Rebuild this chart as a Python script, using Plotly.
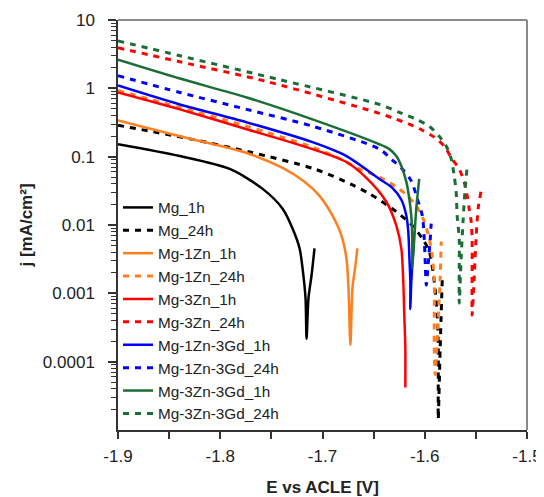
import plotly.graph_objects as go

# ---- data (E in V vs ACLE, j in mA/cm^2) ----
mg_1h_E = [-1.9, -1.8395, -1.7907, -1.7585, -1.739, -1.7293, -1.7224, -1.7195, -1.7166, -1.7156, -1.7137, -1.7107, -1.7078]
mg_1h_j = [0.152, 0.102, 0.0661, 0.0338, 0.0173, 0.0089, 0.00454, 0.00232, 0.00085, 0.000216, 0.00085, 0.00184, 0.00454]

mg_24h_E = [-1.9, -1.8327, -1.7712, -1.7078, -1.6707, -1.6541, -1.6317, -1.6122, -1.6024, -1.5956, -1.5907, -1.5878, -1.5868, -1.5868, -1.5868, -1.5849, -1.5829]
mg_24h_j = [0.288, 0.186, 0.117, 0.0661, 0.0387, 0.0286, 0.0173, 0.0098, 0.00634, 0.0041, 0.0015, 0.00048, 0.00016, 5.3e-5, 1.44e-5, 0.00016, 0.00156]

mg1zn_1h_E = [-1.9, -1.8395, -1.7741, -1.739, -1.7176, -1.7029, -1.6902, -1.6815, -1.6766, -1.6746, -1.6727, -1.6707, -1.6678, -1.6659]
mg1zn_1h_j = [0.34, 0.199, 0.113, 0.0683, 0.0428, 0.0267, 0.0137, 0.00702, 0.00325, 0.00119, 0.000177, 0.00119, 0.00257, 0.00454]

mg1zn_24h_E = [-1.9, -1.8395, -1.7741, -1.7098, -1.6863, -1.6639, -1.6444, -1.6278, -1.618, -1.6083, -1.6005, -1.5956, -1.5927, -1.5907, -1.5907, -1.5907, -1.5898, -1.5868, -1.5849, -1.5839]
mg1zn_24h_j = [0.93, 0.526, 0.279, 0.138, 0.0986, 0.0661, 0.0505, 0.0361, 0.0277, 0.0191, 0.0112, 0.00634, 0.00359, 0.0015, 0.00048, 0.00016, 6.5e-5, 0.00044, 0.00166, 0.00574]

mg3zn_1h_E = [-1.9, -1.8395, -1.7741, -1.7098, -1.6766, -1.6571, -1.6376, -1.6278, -1.6229, -1.621, -1.62, -1.619, -1.619]
mg3zn_1h_j = [0.87, 0.492, 0.252, 0.129, 0.0835, 0.0489, 0.0219, 0.0098, 0.00454, 0.0015, 0.00048, 0.00016, 4.2e-5]

mg3zn_24h_E = [-1.9, -1.8395, -1.7546, -1.6444, -1.6278, -1.6122, -1.6024, -1.5907, -1.581, -1.5732, -1.5663, -1.5615, -1.5585, -1.5566, -1.5546, -1.5537, -1.5537, -1.5537, -1.5517, -1.5498, -1.5478, -1.5449]
mg3zn_24h_j = [3.92, 2.45, 1.26, 0.43, 0.352, 0.288, 0.244, 0.193, 0.143, 0.0923, 0.0661, 0.0428, 0.0267, 0.0173, 0.0112, 0.00634, 0.00166, 0.00048, 0.00166, 0.00634, 0.0173, 0.0316]

mg1zn3gd_1h_E = [-1.9, -1.8395, -1.7741, -1.7098, -1.6766, -1.6444, -1.6317, -1.6229, -1.618, -1.6161, -1.6151, -1.6141, -1.6141, -1.6132, -1.6112]
mg1zn3gd_1h_j = [1.10, 0.581, 0.318, 0.163, 0.102, 0.0472, 0.035, 0.0234, 0.0137, 0.008, 0.00359, 0.0015, 0.00059, 0.00141, 0.00454]

mg1zn3gd_24h_E = [-1.9, -1.8395, -1.7741, -1.7098, -1.6444, -1.6317, -1.622, -1.6132, -1.6073, -1.6024, -1.6005, -1.5995, -1.5985, -1.5966, -1.5946, -1.5937]
mg1zn3gd_24h_j = [1.53, 0.87, 0.492, 0.279, 0.129, 0.0893, 0.0661, 0.0442, 0.0242, 0.0137, 0.00634, 0.00275, 0.00132, 0.00275, 0.00634, 0.0105]

mg3zn3gd_1h_E = [-1.9, -1.8395, -1.7741, -1.7098, -1.6444, -1.6346, -1.6278, -1.6229, -1.618, -1.6151, -1.6132, -1.6122, -1.6122, -1.6102, -1.6083, -1.6054]
mg3zn3gd_1h_j = [2.62, 1.39, 0.735, 0.352, 0.152, 0.129, 0.102, 0.073, 0.0428, 0.0242, 0.0137, 0.00634, 0.00232, 0.00634, 0.0173, 0.0472]

mg3zn3gd_24h_E = [-1.9, -1.8395, -1.742, -1.6444, -1.6249, -1.6083, -1.5956, -1.5859, -1.579, -1.5741, -1.5712, -1.5693, -1.5683, -1.5663, -1.5663, -1.5663, -1.5644, -1.5624, -1.5605, -1.5585]
mg3zn3gd_24h_j = [4.95, 3.0, 1.34, 0.582, 0.445, 0.352, 0.279, 0.199, 0.143, 0.0923, 0.0523, 0.0306, 0.0137, 0.00634, 0.00232, 0.00072, 0.00325, 0.0124, 0.0338, 0.0706]

x_tickvals = [-1.9, -1.8, -1.7, -1.6, -1.5]
x_ticktext = ["-1.9", "-1.8", "-1.7", "-1.6", "-1.5"]
x_minor = [-1.85, -1.75, -1.65, -1.55]
y_tickvals = [1e-4, 1e-3, 1e-2, 1e-1, 1, 10]
y_ticktext = ["0.0001", "0.001", "0.01", "0.1", "1", "10"]

series = [
    ("Mg_1h", mg_1h_E, mg_1h_j, "#000000", "solid"),
    ("Mg_24h", mg_24h_E, mg_24h_j, "#000000", "dash"),
    ("Mg-1Zn_1h", mg1zn_1h_E, mg1zn_1h_j, "#FF7F1E", "solid"),
    ("Mg-1Zn_24h", mg1zn_24h_E, mg1zn_24h_j, "#FF7F1E", "dash"),
    ("Mg-3Zn_1h", mg3zn_1h_E, mg3zn_1h_j, "#FF0000", "solid"),
    ("Mg-3Zn_24h", mg3zn_24h_E, mg3zn_24h_j, "#FF0000", "dash"),
    ("Mg-1Zn-3Gd_1h", mg1zn3gd_1h_E, mg1zn3gd_1h_j, "#0000FF", "solid"),
    ("Mg-1Zn-3Gd_24h", mg1zn3gd_24h_E, mg1zn3gd_24h_j, "#0000FF", "dash"),
    ("Mg-3Zn-3Gd_1h", mg3zn3gd_1h_E, mg3zn3gd_1h_j, "#1B6E35", "solid"),
    ("Mg-3Zn-3Gd_24h", mg3zn3gd_24h_E, mg3zn3gd_24h_j, "#1B6E35", "dash"),
]

FONT = "Liberation Sans, Arial, sans-serif"

fig = go.Figure()
for name, E, j, color, style in series:
    fig.add_trace(go.Scatter(
        x=E, y=j, name=name, mode="lines",
        line=dict(color=color, width=2.5 if style == "solid" else 3,
                  dash="solid" if style == "solid" else "6px,6px",
                  shape="spline", smoothing=0.8),
    ))

minor_y = [k * 10.0 ** n for n in range(-5, 1) for k in range(2, 10)]

# the page body adds an 8px offset, so the figure is 8px smaller on each axis
fig.update_layout(
    width=536, height=489,
    margin=dict(l=110, r=17, t=12, b=67, autoexpand=False),
    paper_bgcolor="white", plot_bgcolor="white",
    font=dict(family=FONT, size=16, color="#222"),
    showlegend=True,
    legend=dict(x=0.0, y=0.583, xanchor="left", yanchor="top",
                bgcolor="rgba(0,0,0,0)", borderwidth=0,
                font=dict(family=FONT, size=15.3, color="#222"),
                tracegroupgap=0),
    xaxis=dict(
        automargin=False,
        range=[-1.9, -1.5], tickmode="array", tickvals=x_tickvals, ticktext=x_ticktext,
        ticks="outside", ticklen=7, tickwidth=1.5, tickcolor="#333", ticklabelstandoff=3,
        showline=True, linecolor="#333", linewidth=1.5, showgrid=False, zeroline=False,
        minor=dict(tickmode="array", tickvals=x_minor,
                   ticks="outside", ticklen=7, tickwidth=1.5, tickcolor="#333", showgrid=False),
        title=dict(text="<b>E vs ACLE [V]</b>", font=dict(family=FONT, size=17, color="#222"), standoff=18),
        tickfont=dict(family=FONT, size=17, color="#222"),
    ),
    yaxis=dict(
        automargin=False,
        type="log", range=[-5, 1], tickmode="array", tickvals=y_tickvals, ticktext=y_ticktext,
        ticks="outside", ticklen=8, tickwidth=1.5, tickcolor="#333", ticklabelstandoff=10,
        showline=True, linecolor="#333", linewidth=1.5, showgrid=False, zeroline=False,
        minor=dict(tickmode="array", tickvals=minor_y, ticks="outside", ticklen=5,
                   tickwidth=1, tickcolor="#333", showgrid=False),
        title=dict(text="<b>j [mA/cm²]</b>", font=dict(family=FONT, size=17, color="#222"), standoff=6),
        tickfont=dict(family=FONT, size=17, color="#222"),
    ),
    shapes=[
        dict(type="line", xref="paper", yref="paper", x0=0, x1=1, y0=1, y1=1,
             line=dict(color="#8a8a8a", width=2)),
        dict(type="line", xref="paper", yref="paper", x0=1, x1=1, y0=0, y1=1,
             line=dict(color="#8a8a8a", width=2)),
    ],
)

fig.write_html("out.html")
